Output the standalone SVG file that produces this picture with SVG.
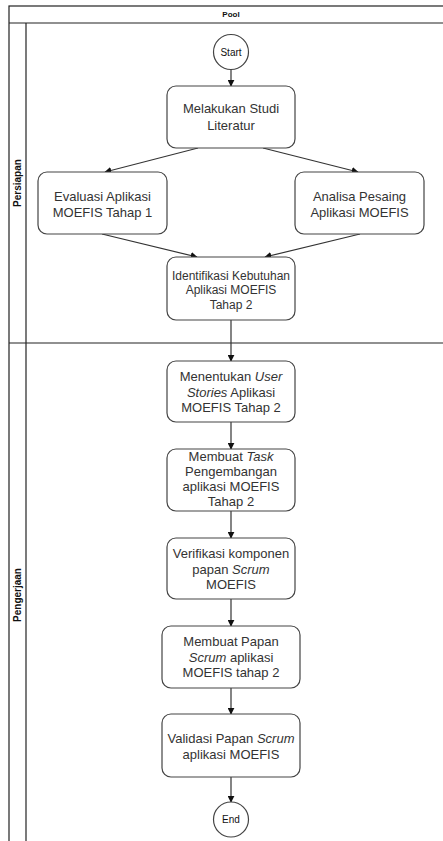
<svg xmlns="http://www.w3.org/2000/svg" width="443" height="841" viewBox="0 0 443 841">
<defs>
<style>
.pool{fill:#ffffff;stroke:#222;stroke-width:1.2}
.line{stroke:#222;stroke-width:1.2;fill:none}
.box{fill:#ffffff;stroke:#444;stroke-width:1.2}
.t{font-family:"Liberation Sans",Arial,sans-serif;font-size:13px;fill:#333;text-anchor:middle}
.t12{font-size:12px}
.small{font-family:"Liberation Sans",Arial,sans-serif;font-size:10px;fill:#111;text-anchor:middle}
.hdr{font-family:"Liberation Sans",Arial,sans-serif;font-size:8px;font-weight:bold;fill:#111;text-anchor:middle}
.lane{font-family:"Liberation Sans",Arial,sans-serif;font-size:10px;font-weight:bold;fill:#111;text-anchor:middle}
.edge{stroke:#333;stroke-width:1.2;fill:none;marker-end:url(#arr)}
</style>
<marker id="arr" viewBox="0 0 10 10" refX="9" refY="5" markerWidth="7" markerHeight="7" markerUnits="userSpaceOnUse" orient="auto">
<path d="M0,0 L10,5 L0,10 z" fill="#111"/>
</marker>
</defs>
<g id="pool">
<rect class="pool" x="9" y="6" width="445" height="845"/>
<line class="line" x1="9" y1="23" x2="454" y2="23"/>
<line class="line" x1="26" y1="23" x2="26" y2="851"/>
<line class="line" x1="9" y1="343" x2="454" y2="343"/>
<text class="hdr" x="231" y="17">Pool</text>
<text class="lane" transform="translate(20.5,183) rotate(-90)">Persiapan</text>
<text class="lane" transform="translate(20.5,595) rotate(-90)">Pengerjaan</text>
</g>
<g id="connectors">
<path class="edge" d="M231,69.5 L231,86"/>
<path class="edge" d="M198,148 L105,172"/>
<path class="edge" d="M263,148 L358,172"/>
<path class="edge" d="M102,234 L197,257"/>
<path class="edge" d="M360,234 L265,257"/>
<path class="edge" d="M231,320 L231,361"/>
<path class="edge" d="M231,422 L231,449"/>
<path class="edge" d="M231,511 L231,538"/>
<path class="edge" d="M231,599 L231,626"/>
<path class="edge" d="M231,688 L231,714"/>
<path class="edge" d="M231,777 L231,802"/>
</g>
<g id="start">
<circle class="box" cx="231" cy="52" r="17.5"/>
<text class="small" x="231" y="55.5">Start</text>
</g>
<g id="studi">
<rect class="box" x="167" y="86" width="128" height="62" rx="9"/>
<text class="t" x="231" y="113">Melakukan Studi</text>
<text class="t" x="231" y="130">Literatur</text>
</g>
<g id="evaluasi">
<rect class="box" x="38" y="172" width="129" height="62" rx="9"/>
<text class="t" x="102.5" y="200.5">Evaluasi Aplikasi</text>
<text class="t" x="102.5" y="217">MOEFIS Tahap 1</text>
</g>
<g id="analisa">
<rect class="box" x="295" y="172" width="129" height="62" rx="9"/>
<text class="t" x="359.5" y="200.5">Analisa Pesaing</text>
<text class="t" x="359.5" y="217">Aplikasi MOEFIS</text>
</g>
<g id="identifikasi">
<rect class="box" x="167" y="257" width="128" height="63" rx="9"/>
<text class="t t12" x="231" y="280">Identifikasi Kebutuhan</text>
<text class="t t12" x="231" y="294.3">Aplikasi MOEFIS</text>
<text class="t t12" x="231" y="308.6">Tahap 2</text>
</g>
<g id="userstories">
<rect class="box" x="167" y="361" width="128" height="61" rx="9"/>
<text class="t" x="231" y="381.2">Menentukan <tspan font-style="italic">User</tspan></text>
<text class="t" x="231" y="396.7"><tspan font-style="italic">Stories</tspan> Aplikasi</text>
<text class="t" x="231" y="412.2">MOEFIS Tahap 2</text>
</g>
<g id="task">
<rect class="box" x="167" y="449" width="128" height="62" rx="9"/>
<text class="t" x="231" y="461.2">Membuat <tspan font-style="italic">Task</tspan></text>
<text class="t" x="231" y="476.2">Pengembangan</text>
<text class="t" x="231" y="491.2">aplikasi MOEFIS</text>
<text class="t" x="231" y="506.2">Tahap 2</text>
</g>
<g id="verifikasi">
<rect class="box" x="167" y="538" width="128" height="61" rx="9"/>
<text class="t" x="231" y="557.8">Verifikasi komponen</text>
<text class="t" x="231" y="573.6">papan <tspan font-style="italic">Scrum</tspan></text>
<text class="t" x="231" y="589.4">MOEFIS</text>
</g>
<g id="papan">
<rect class="box" x="162" y="626" width="138" height="62" rx="9"/>
<text class="t" x="231" y="646.2">Membuat Papan</text>
<text class="t" x="231" y="661.8"><tspan font-style="italic">Scrum</tspan> aplikasi</text>
<text class="t" x="231" y="677.4">MOEFIS tahap 2</text>
</g>
<g id="validasi">
<rect class="box" x="162" y="714" width="138" height="63" rx="9"/>
<text class="t" x="231" y="742.8">Validasi Papan <tspan font-style="italic">Scrum</tspan></text>
<text class="t" x="231" y="758.8">aplikasi MOEFIS</text>
</g>
<g id="end">
<circle class="box" cx="231" cy="819.5" r="17.5"/>
<text class="small" x="231" y="823">End</text>
</g>
</svg>
